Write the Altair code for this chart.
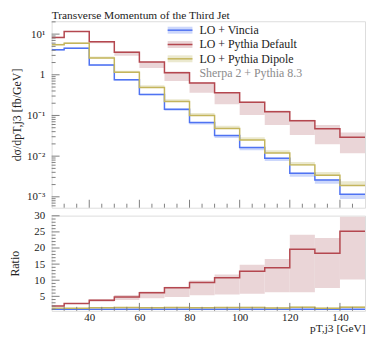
import altair as alt
import pandas as pd

# ---------------- data ----------------
edges = [25, 30, 40, 50, 60, 70, 80, 90, 100, 110, 120, 130, 140, 150]
series = ["LO + Vincia", "LO + Pythia Default", "LO + Pythia Dipole"]
note = "Sherpa 2 + Pythia 8.3"

vincia = [4.1, 4.5, 1.75, 0.76, 0.33, 0.143, 0.067, 0.032, 0.0163, 0.0089, 0.0038, 0.0026, 0.00115]
vincia_lo = [3.9, 4.3, 1.65, 0.71, 0.30, 0.13, 0.060, 0.028, 0.0140, 0.0076, 0.0031, 0.0021, 0.00088]
vincia_hi = [4.3, 4.7, 1.8, 0.78, 0.34, 0.146, 0.068, 0.033, 0.0166, 0.0091, 0.0039, 0.0027, 0.00118]

pdef = [8.3, 11.6, 6.5, 3.6, 2.05, 1.12, 0.63, 0.36, 0.21, 0.123, 0.074, 0.047, 0.029]
pdef_lo = [8.0, 11.2, 6.0, 2.95, 1.46, 0.70, 0.36, 0.19, 0.102, 0.058, 0.033, 0.0195, 0.0117]
pdef_hi = [8.6, 12.0, 6.75, 3.8, 2.1, 1.2, 0.66, 0.38, 0.22, 0.132, 0.079, 0.058, 0.038]

pdip = [5.5, 6.0, 2.6, 1.16, 0.49, 0.22, 0.10, 0.048, 0.025, 0.012, 0.0061, 0.0034, 0.0019]
pdip_lo = [5.4, 5.9, 2.55, 1.13, 0.48, 0.215, 0.098, 0.047, 0.0245, 0.0118, 0.0059, 0.0033, 0.00185]
pdip_hi = [5.8, 6.3, 2.8, 1.26, 0.55, 0.25, 0.115, 0.056, 0.029, 0.014, 0.0072, 0.0041, 0.0024]

r_vincia = [1.0] * 13
r_vincia_lo = [0.95, 0.95, 0.94, 0.93, 0.91, 0.91, 0.9, 0.88, 0.86, 0.85, 0.82, 0.81, 0.77]
r_vincia_hi = [1.04, 1.04, 1.03, 1.03, 1.03, 1.02, 1.02, 1.03, 1.02, 1.02, 1.03, 1.04, 1.03]

r_pdef = [2.0, 2.75, 3.8, 4.8, 6.1, 7.7, 9.3, 10.8, 12.8, 13.9, 19.6, 18.4, 25.2]
r_pdef_lo = [1.9, 2.6, 3.3, 3.9, 4.4, 4.8, 5.3, 5.6, 5.8, 6.3, 6.3, 7.6, 10.2]
r_pdef_hi = [2.1, 2.9, 4.1, 5.4, 6.5, 8.0, 9.9, 11.8, 14.8, 16.6, 24.1, 23.1, 29.7]

r_pdip = [1.34, 1.33, 1.49, 1.53, 1.48, 1.54, 1.49, 1.5, 1.53, 1.35, 1.6, 1.31, 1.65]
r_pdip_lo = [1.3, 1.3, 1.45, 1.48, 1.43, 1.48, 1.42, 1.43, 1.45, 1.28, 1.5, 1.22, 1.55]
r_pdip_hi = [1.4, 1.4, 1.6, 1.65, 1.62, 1.7, 1.68, 1.7, 1.75, 1.58, 1.85, 1.55, 1.95]

main_tick_vals = [0.001, 0.01, 0.1, 1, 10]
main_tick_labels = ["10⁻³", "10⁻²", "10⁻¹", "1", "10¹"]
ratio_tick_vals = [5, 10, 15, 20, 25, 30]
x_tick_vals = [40, 60, 80, 100, 120, 140]

line_colors = ["#4f73f2", "#b4474f", "#c4b55c"]
band_colors = ["#ccd7fb", "#ead5d7", "#ebe9cf"]

# ---------------- layout constants ----------------
W = 316
H1 = 188
H2 = 96
FONT = "Liberation Serif"
FRAME = "#7f7f7f"
y_dom = [5.4e-4, 20.7]
r_dom = [0.5, 30.05]

xs = alt.Scale(domain=[25, 150], nice=False, zero=False)
ys_main = alt.Scale(type="log", domain=y_dom, nice=False)
ys_ratio = alt.Scale(domain=r_dom, nice=False, zero=False)
stroke_scale = alt.Scale(domain=series, range=line_colors)
fill_scale = alt.Scale(domain=series, range=band_colors)


def step_df(vals, name):
    return pd.DataFrame({"x": edges, "y": list(vals) + [vals[-1]], "series": name})


def band_df(lo, hi, name):
    return pd.DataFrame({"x": edges[:-1], "x2": edges[1:], "lo": lo, "hi": hi, "series": name})


def panel(vals, los, his, yscale, yaxis, xaxis, height):
    bands = pd.concat([band_df(l, h, s) for l, h, s in zip(los, his, series)])
    steps = pd.concat([step_df(v, s) for v, s in zip(vals, series)])
    band_layer = alt.Chart(bands).mark_rect(clip=True).encode(
        x=alt.X("x:Q", scale=xs, axis=xaxis),
        x2="x2:Q",
        y=alt.Y("lo:Q", scale=yscale, axis=yaxis),
        y2="hi:Q",
        fill=alt.Fill("series:N", scale=fill_scale, legend=None),
    )
    line_layer = alt.Chart(steps).mark_line(interpolate="step-after", strokeWidth=1.5, clip=True).encode(
        x=alt.X("x:Q", scale=xs, axis=xaxis),
        y=alt.Y("y:Q", scale=yscale, axis=yaxis),
        stroke=alt.Stroke("series:N", scale=stroke_scale, legend=None),
        detail="series:N",
    )
    # x ticks (inside, pointing up from bottom frame)
    minor_x = [v for v in range(30, 150, 5) if v not in x_tick_vals]
    tx_min = alt.Chart(pd.DataFrame({"t": minor_x})).mark_rule(color=FRAME, strokeWidth=1).encode(
        x=alt.X("t:Q", scale=xs, axis=xaxis), y=alt.value(height), y2=alt.value(height - 4))
    tx_maj = alt.Chart(pd.DataFrame({"t": x_tick_vals})).mark_rule(color=FRAME, strokeWidth=1).encode(
        x=alt.X("t:Q", scale=xs, axis=xaxis), y=alt.value(height), y2=alt.value(height - 8))
    return [band_layer, line_layer, tx_min, tx_maj]


def y_ticks(minor, major, yscale, yaxis):
    t_min = alt.Chart(pd.DataFrame({"t": minor})).mark_rule(color=FRAME).encode(
        y=alt.Y("t:Q", scale=yscale, axis=yaxis), x=alt.value(0), x2=alt.value(4))
    t_maj = alt.Chart(pd.DataFrame({"t": major})).mark_rule(color=FRAME).encode(
        y=alt.Y("t:Q", scale=yscale, axis=yaxis), x=alt.value(0), x2=alt.value(8))
    return [t_min, t_maj]


# ---------------- main panel ----------------
label_expr = " : ".join(
    [f"abs(log(datum.value)/log(10) - ({i})) < 0.01 ? '{lab}'" for i, lab in zip([-3, -2, -1, 0, 1], main_tick_labels)]
) + " : ''"

main_yaxis = alt.Axis(values=main_tick_vals, labelExpr=label_expr, ticks=False, domain=False, grid=False,
                      title="dσ/dpT,j3 [fb/GeV]", titleFont=FONT, titleFontSize=12, titleFontWeight="normal",
                      titleColor="#222", labelFont=FONT, labelFontSize=11, labelColor="#222",
                      labelPadding=7, titlePadding=3, labelOverlap=False)
main_layers = panel([vincia, pdef, pdip], [vincia_lo, pdef_lo, pdip_lo], [vincia_hi, pdef_hi, pdip_hi],
                    ys_main, main_yaxis, None, H1)

minor_y = []
for d in range(-4, 2):
    for k in range(2, 10):
        v = k * 10.0 ** d
        if y_dom[0] <= v <= y_dom[1]:
            minor_y.append(v)

data_main = alt.layer(*main_layers, *y_ticks(minor_y, main_tick_vals, ys_main, main_yaxis))

# legend
leg = pd.DataFrame({
    "row": [0, 1, 2, 3],
    "label": series + [note],
    "line": line_colors + ["transparent"],
    "band": band_colors + ["transparent"],
    "tcolor": ["#222", "#222", "#222", "#8c8c8c"],
})
ly = alt.Scale(domain=[0, 3], range=[9, 52.3])
leg_band = alt.Chart(leg).mark_rule(strokeWidth=7, strokeCap="butt").encode(
    x=alt.value(117), x2=alt.value(142), y=alt.Y("row:Q", scale=ly, axis=None),
    stroke=alt.Stroke("band:N", scale=None))
leg_line = alt.Chart(leg).mark_rule(strokeWidth=1.5).encode(
    x=alt.value(117), x2=alt.value(142), y=alt.Y("row:Q", scale=ly, axis=None),
    stroke=alt.Stroke("line:N", scale=None))
leg_text = alt.Chart(leg).mark_text(align="left", baseline="middle", font=FONT, fontSize=12).encode(
    x=alt.value(149), y=alt.Y("row:Q", scale=ly, axis=None), text="label:N",
    color=alt.Color("tcolor:N", scale=None))
legend_layer = alt.layer(leg_band, leg_line, leg_text)

top = alt.layer(data_main, legend_layer).resolve_scale(y="independent").properties(
    width=W, height=H1,
    title=alt.TitleParams("Transverse Momentum of the Third Jet", anchor="start", frame="group",
                          font=FONT, fontSize=11.5, fontWeight="normal", color="#222", offset=0),
)

# ---------------- ratio panel ----------------
ratio_yaxis = alt.Axis(values=ratio_tick_vals, ticks=False, domain=False, grid=False, title="Ratio",
                       titleFont=FONT, titleFontSize=12, titleFontWeight="normal", titleColor="#222",
                       labelFont=FONT, labelFontSize=11, labelColor="#222", labelPadding=7,
                       titlePadding=12, labelOverlap=False, labelBound=False)
ratio_xaxis = alt.Axis(values=x_tick_vals, ticks=False, domain=False, grid=False,
                       title="pT,j3 [GeV]", titleAnchor="end", titleFont=FONT, titleFontSize=11.5,
                       titleFontWeight="normal", titleColor="#222", labelFont=FONT, labelFontSize=11,
                       labelColor="#222", labelPadding=1, titlePadding=0, labelFlush=False)
ratio_layers = panel([r_vincia, r_pdef, r_pdip], [r_vincia_lo, r_pdef_lo, r_pdip_lo],
                     [r_vincia_hi, r_pdef_hi, r_pdip_hi], ys_ratio, ratio_yaxis, ratio_xaxis, H2)
minor_r = [v for v in range(1, 30) if v % 5 != 0]
bottom = alt.layer(*ratio_layers, *y_ticks(minor_r, ratio_tick_vals, ys_ratio, ratio_yaxis)).properties(
    width=W, height=H2)

chart = alt.vconcat(top, bottom, spacing=0).properties(
    padding={"left": 0, "top": 0, "right": 0, "bottom": 0}
).configure_view(stroke=FRAME, strokeWidth=1).configure(background="white")

chart.save("out.html", embed_options={"renderer": "svg", "actions": False})
